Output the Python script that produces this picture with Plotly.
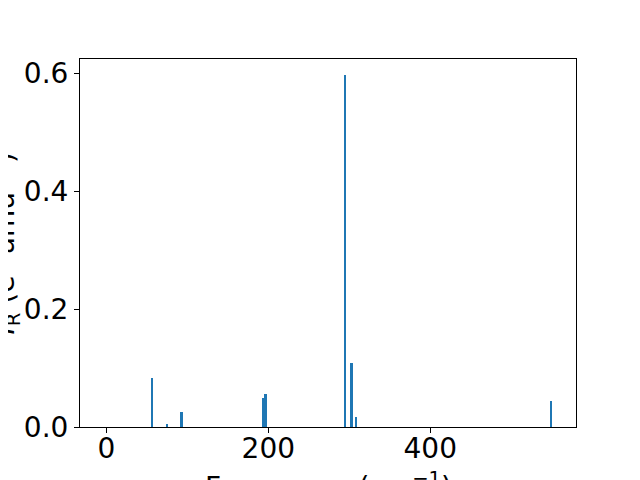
import plotly.graph_objects as go

freqs = [56.4, 75.3, 93.1, 193.9, 196.8, 295.1, 303.0, 309.1, 549.0]
intensities = [0.0836, 0.0056, 0.026, 0.0497, 0.0564, 0.597, 0.109, 0.0175, 0.0446]
x_ticks = [0, 200, 400]
y_ticks = [0.0, 0.2, 0.4, 0.6]

FONT = "DejaVu Sans"
FS = 28

fig = go.Figure()
fig.add_trace(go.Bar(x=freqs, y=intensities, width=2.0,
                     marker=dict(color="#1f77b4", line=dict(width=0))))

# page body has an 8px offset; compensate so the axes land at x 80..576, y 59..427
L, R, T, B = 72, 72, 51, 61
fig.update_layout(
    width=640, height=480,
    margin=dict(l=L, r=R, t=T, b=B, autoexpand=False),
    paper_bgcolor="white", plot_bgcolor="white",
    font=dict(family=FONT, size=FS, color="black"),
    showlegend=False,
    bargap=0,
)
fig.update_xaxes(range=[-32.5, 580], tickvals=x_ticks, ticktext=[str(v) for v in x_ticks],
                 showgrid=False, zeroline=False, showline=True, linecolor="black", linewidth=1.1,
                 mirror=True, ticks="outside", ticklen=5, tickwidth=1.1, tickcolor="black",
                 ticklabelstandoff=-9, automargin=False)
fig.update_yaxes(range=[0, 0.6245], tickvals=y_ticks, ticktext=[f"{v:.1f}" for v in y_ticks],
                 showgrid=False, zeroline=False, showline=True, linecolor="black", linewidth=1.1,
                 mirror=True, ticks="outside", ticklen=5, tickwidth=1.1, tickcolor="black",
                 automargin=False)

pw, ph = 640 - L - R, 480 - T - B
fig.add_annotation(text="Frequency (cm<sup>−1</sup>)", xref="paper", yref="paper",
                   x=0.5, y=-0.104, xanchor="center", yanchor="top",
                   showarrow=False, font=dict(family=FONT, size=FS, color="black"))
fig.add_annotation(text="<i>I</i><sub>R</sub> (e<sup>2</sup> amu<sup>−1</sup>)", xref="paper", yref="paper",
                   x=-0.107, y=0.5, xanchor="right", yanchor="middle", textangle=-90,
                   showarrow=False, font=dict(family=FONT, size=FS, color="black"))

fig.write_html("out.html")
